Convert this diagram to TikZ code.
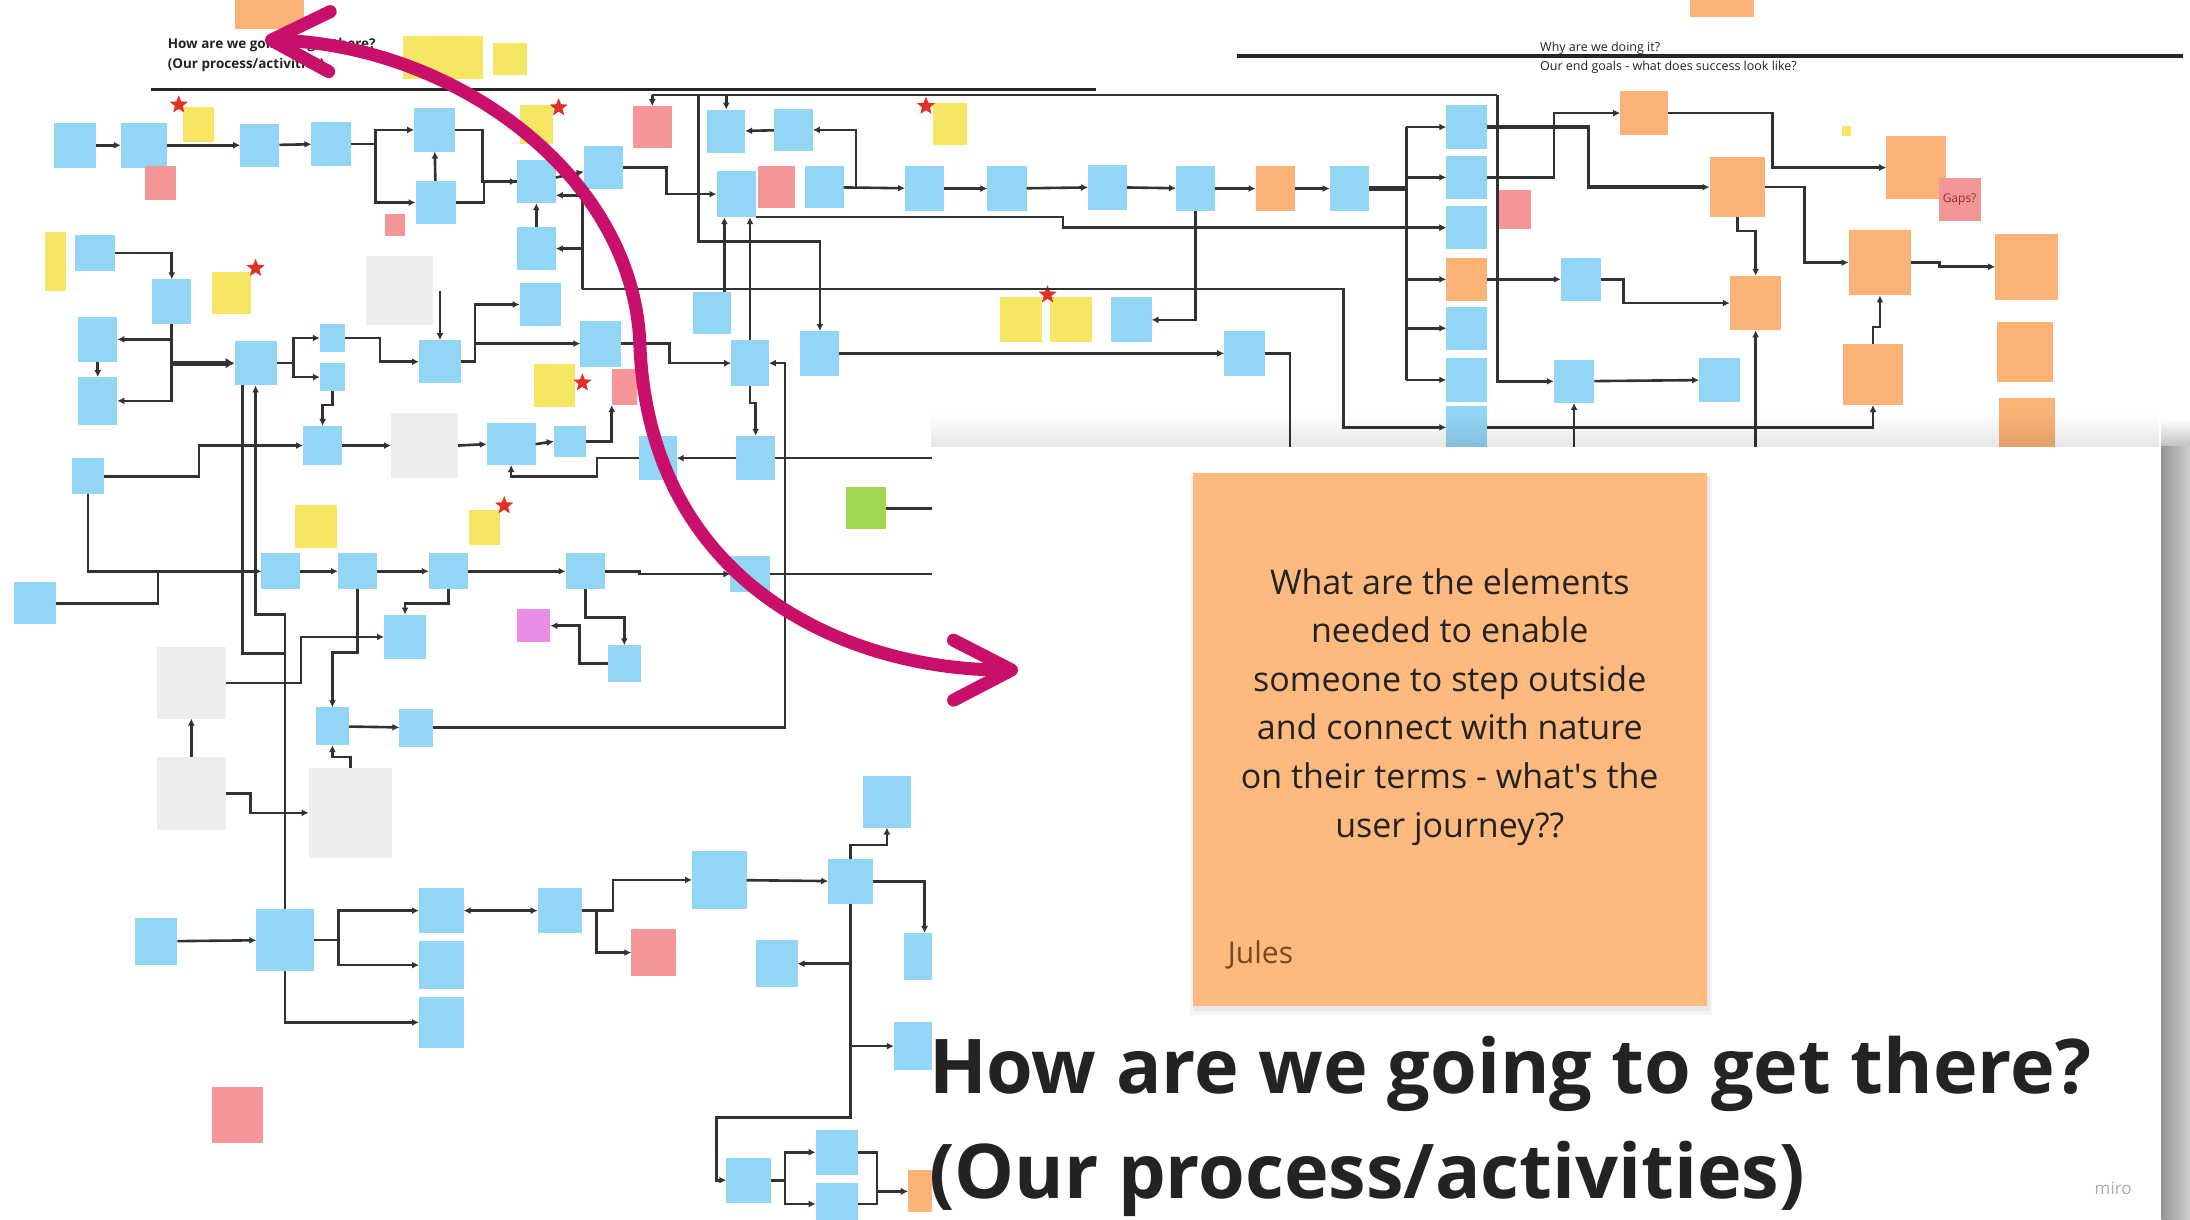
\documentclass[tikz,border=0pt]{standalone}
\usepackage{fontspec}
\setmainfont{Open Sans}
\usetikzlibrary{arrows.meta,shapes.geometric,fadings}

\definecolor{stblue}{RGB}{146,213,245}
\definecolor{styellow}{RGB}{246,230,100}
\definecolor{storange}{RGB}{251,178,118}
\definecolor{stbig}{RGB}{253,185,126}
\definecolor{stpink}{RGB}{244,150,152}
\definecolor{stgray}{RGB}{238,238,238}
\definecolor{stgreen}{RGB}{160,214,80}
\definecolor{stviolet}{RGB}{232,140,228}
\definecolor{starred}{RGB}{226,48,36}
\definecolor{lnk}{RGB}{50,50,50}
\definecolor{txtdark}{RGB}{35,35,35}
\definecolor{gapred}{RGB}{150,40,55}
\definecolor{julesbrown}{RGB}{118,72,32}
\definecolor{arrowmag}{RGB}{200,16,106}

\begin{document}
\begin{tikzpicture}[x=1.3967pt, y=-1.3967pt,
    wh/.style 2 args={minimum width=#1*1.3967pt, minimum height=#2*1.3967pt},
    note/.style={inner sep=0pt, outer sep=0pt, wh={28}{30}},
    bnote/.style={note, fill=stblue},
    ynote/.style={note, fill=styellow},
    onote/.style={note, fill=storange},
    pnote/.style={note, fill=stpink},
    gnote/.style={note, fill=stgray},
    lnote/.style={note, fill=stgreen},
    vnote/.style={note, fill=stviolet},
    starmark/.style={star, star points=5, star point ratio=2.3, fill=starred, inner sep=0pt, minimum size=19pt},
    wire/.style={draw=lnk, line width=2.6pt},
    link/.style={wire, -{Latex[length=7pt,width=7pt]}},
    link2/.style={wire, {Latex[length=7pt,width=7pt]}-{Latex[length=7pt,width=7pt]}},
    bundle/.style={draw=lnk, line width=5pt},
    bundlelink/.style={bundle, -{Latex[length=9pt,width=11pt]}},
    divline/.style={draw=black!85, line width=3.5pt},
    ]
    \useasboundingbox (0,0) rectangle (1568,873);
    \fill[white] (0,0) rectangle (1568,873);

    % Section headings
    \node[onote, wh={50}{21}] (otop1) at (193,10) {};
    \node[onote, wh={46}{12}] (otop2) at (1233,6) {};
    \node[ynote, wh={57}{31}] (ytop1) at (317,41) {};
    \node[ynote, wh={24}{23}] (ytop2) at (365,42) {};
    \node[anchor=base west, inner sep=0pt, text=txtdark, font=\bfseries\fontsize{13.5}{13.5}\selectfont] (howsmall) at (120,35) {How are we going to get there?};
    \node[anchor=base west, inner sep=0pt, text=txtdark, font=\bfseries\fontsize{13.5}{13.5}\selectfont] (procsmall) at (120,48.7) {(Our process/activities)};
    \node[anchor=base west, inner sep=0pt, text=txtdark, font=\fontsize{12.5}{12.5}\selectfont] (whysmall) at (1102.6,37) {Why are we doing it?};
    \node[anchor=base west, inner sep=0pt, text=txtdark, font=\fontsize{12.5}{12.5}\selectfont] (goalsmall) at (1102.6,50.5) {Our end goals - what does success look like?};
    \draw[divline] (108,64) -- (785,64);
    \draw[divline] (885.6,40) -- (1563,40);

    % Process row
    \node[bnote, wh={30}{32}] (a1) at (54,104) {};
    \node[bnote, wh={33}{32}] (a2) at (103,104) {};
    \node[ynote, wh={22}{25}] (y1) at (142,89) {};
    \node[pnote, wh={22}{25}] (p1) at (115,131) {};
    \node[bnote, wh={28}{31}] (a3) at (186,104) {};
    \node[bnote, wh={28}{31}] (a4) at (237,103) {};
    \node[bnote, wh={29}{31}] (a5) at (311,93) {};
    \node[bnote, wh={29}{31}] (a6) at (312,145) {};
    \node[pnote, wh={14}{16}] (p2) at (283,161) {};
    \node[ynote, wh={24}{28}] (y2) at (384,89) {};
    \node[bnote, wh={28}{31}] (a7) at (384,130) {};
    \node[bnote, wh={28}{31}] (a8) at (432,120) {};
    \node[bnote, wh={28}{31}] (a9) at (384,178) {};
    \node[pnote, wh={28}{30}] (p3) at (467,91) {};
    \node[bnote, wh={27}{31}] (a10) at (520,94) {};
    \node[bnote, wh={28}{30}] (a11) at (568,93) {};
    \node[bnote, wh={28}{33}] (a12) at (527,139) {};
    \node[pnote, wh={26}{30}] (p4) at (556,134) {};
    \node[bnote, wh={28}{30}] (a13) at (590,134) {};
    \node[ynote, wh={24}{30}] (y3) at (680,89) {};
    \node[bnote, wh={28}{32}] (a14) at (662,135) {};
    \node[bnote, wh={28}{32}] (a15) at (721,135) {};
    \node[bnote, wh={28}{32}] (a16) at (793,134) {};
    \node[bnote, wh={28}{32}] (a17) at (856,135) {};
    \node[onote, wh={28}{32}] (o1) at (913,135) {};
    \node[bnote, wh={28}{32}] (a18) at (966,135) {};

    % Goals column and outcomes
    \node[bnote, wh={29}{31}] (c1) at (1050,91) {};
    \node[bnote, wh={29}{31}] (c2) at (1050,127) {};
    \node[bnote, wh={29}{31}] (c3) at (1050,163) {};
    \node[onote, wh={29}{31}] (c4) at (1050,200) {};
    \node[bnote, wh={29}{31}] (c5) at (1050,235) {};
    \node[bnote, wh={29}{31}] (c6) at (1050,272) {};
    \node[bnote, wh={29}{31}] (c7) at (1050,306) {};
    \node[pnote, wh={24}{28}] (p5) at (1084,150) {};
    \node[onote, wh={34}{32}] (o2) at (1177,81) {};
    \node[onote, wh={40}{43}] (o3) at (1244,134) {};
    \node[onote, wh={43}{45}] (o4) at (1372,120) {};
    \node[pnote, wh={30}{31}, text=gapred, font=\fontsize{12}{12}\selectfont] (p6) at (1403,143) {Gaps?};
    \node[ynote, wh={7}{7}] (ydot) at (1322,94) {};
    \node[bnote, wh={29}{31}] (b20) at (1132,200) {};
    \node[onote, wh={37}{39}] (o5) at (1257,217) {};
    \node[onote, wh={45}{47}] (o6) at (1346,188) {};
    \node[onote, wh={45}{47}] (o7) at (1451,191) {};
    \node[bnote, wh={29}{31}] (b21) at (1127,273) {};
    \node[bnote, wh={29}{31}] (b22) at (1231,272) {};
    \node[onote, wh={43}{44}] (o8) at (1341,268) {};
    \node[onote, wh={40}{43}] (o9) at (1450,252) {};
    \node[onote, wh={40}{40}] (o10) at (1451,305) {};

    % Middle notes
    \node[ynote, wh={30}{32}] (y4) at (731,229) {};
    \node[ynote, wh={30}{32}] (y5) at (767,229) {};
    \node[bnote, wh={29}{32}] (a19) at (810,229) {};
    \node[bnote, wh={29}{32}] (a20) at (891,253) {};
    \node[bnote, wh={27}{30}] (a21) at (510,224) {};
    \node[bnote, wh={27}{33}] (a22) at (537,260) {};
    \node[bnote, wh={28}{32}] (a23) at (587,253) {};
    \node[bnote, wh={28}{32}] (a24) at (541,328) {};
    \node[bnote, wh={27}{32}] (a25) at (471,328) {};
    \node[lnote, wh={28}{30}] (gr) at (620,364) {};

    % Left notes
    \node[ynote, wh={15}{42}] (y6) at (40,187) {};
    \node[bnote, wh={28}{26}] (l1) at (68,181) {};
    \node[bnote, wh={28}{32}] (l2) at (123,216) {};
    \node[ynote, wh={28}{30}] (y7) at (166,210) {};
    \node[gnote, wh={48}{50}] (g1) at (286,208) {};
    \node[bnote, wh={28}{32}] (l3) at (70,243) {};
    \node[bnote, wh={28}{34}] (l4) at (70,287) {};
    \node[bnote, wh={30}{32}] (l5) at (183,260) {};
    \node[bnote, wh={18}{20}] (l6) at (238,242) {};
    \node[bnote, wh={18}{20}] (l7) at (238,270) {};
    \node[bnote, wh={30}{31}] (l8) at (315,259) {};
    \node[bnote, wh={30}{31}] (l9) at (387,218) {};
    \node[bnote, wh={29}{33}] (l10) at (430,246) {};
    \node[ynote, wh={30}{31}] (y8) at (397,276) {};
    \node[pnote, wh={18}{26}] (p7) at (447,277) {};
    \node[bnote, wh={28}{28}] (l11) at (231,319) {};
    \node[gnote, wh={48}{46}] (g2) at (304,319) {};
    \node[bnote, wh={35}{30}] (l12) at (366,318) {};
    \node[bnote, wh={23}{22}] (l13) at (408,316) {};
    \node[bnote, wh={23}{26}] (l14) at (63,341) {};
    \node[ynote, wh={30}{31}] (y9) at (226,377) {};
    \node[ynote, wh={22}{25}] (y10) at (347,378) {};
    \node[bnote, wh={28}{26}] (l15) at (201,409) {};
    \node[bnote, wh={28}{26}] (l16) at (256,409) {};
    \node[bnote, wh={28}{26}] (l17) at (321,409) {};
    \node[bnote, wh={28}{26}] (l18) at (419,409) {};
    \node[bnote, wh={28}{26}] (l19) at (537,411) {};
    \node[bnote, wh={30}{30}] (l20) at (25,432) {};

    % Lower notes
    \node[gnote, wh={49}{51}] (g3) at (137,489) {};
    \node[vnote, wh={24}{24}] (v1) at (382,448) {};
    \node[bnote, wh={30}{32}] (m1) at (290,456) {};
    \node[bnote, wh={24}{26}] (m2) at (447,475) {};
    \node[bnote, wh={24}{27}] (m3) at (238,520) {};
    \node[bnote, wh={24}{27}] (m4) at (298,521) {};
    \node[gnote, wh={49}{52}] (g4) at (137,568) {};
    \node[gnote, wh={60}{64}] (g5) at (251,582) {};
    \node[bnote, wh={34}{37}] (m5) at (635,574) {};
    \node[bnote, wh={39}{41}] (m6) at (515,630) {};
    \node[bnote, wh={32}{32}] (m7) at (609,631) {};
    \node[bnote, wh={30}{34}] (m8) at (112,674) {};
    \node[bnote, wh={41}{44}] (nb) at (204,673) {};
    \node[bnote, wh={32}{32}] (m9) at (316,652) {};
    \node[bnote, wh={32}{34}] (m10) at (316,691) {};
    \node[bnote, wh={32}{36}] (m11) at (316,732) {};
    \node[bnote, wh={32}{32}] (m12) at (401,652) {};
    \node[pnote, wh={32}{34}] (p8) at (468,682) {};
    \node[bnote, wh={30}{34}] (m13) at (556,690) {};
    \node[bnote, wh={30}{34}] (m14) at (662,685) {};
    \node[bnote, wh={30}{34}] (m15) at (655,749) {};
    \node[pnote, wh={37}{40}] (p9) at (170,798) {};
    \node[bnote, wh={32}{32}] (m16) at (536,845) {};
    \node[bnote, wh={30}{32}] (m17) at (599,825) {};
    \node[bnote, wh={30}{30}] (m18) at (599,862) {};
    \node[onote, wh={22}{30}] (o11) at (661,853) {};

    % Stars
    \node[starmark] (s1) at (128,75) {};
    \node[starmark] (s2) at (400,77) {};
    \node[starmark] (s3) at (663,76) {};
    \node[starmark] (s4) at (183,192) {};
    \node[starmark] (s5) at (417,274) {};
    \node[starmark] (s6) at (361,362) {};
    \node[starmark] (s7) at (750,211) {};

    % Junctions
    \coordinate (jn1) at (417,207);
    \coordinate (tl1) at (467,68);
    \coordinate (tl2) at (500,68);
    \coordinate (tr1) at (1072,68);
    \coordinate (jn2) at (613,134);
    \coordinate (bus1) at (1007,91);
    \coordinate (bus2) at (1007,272);
    \coordinate (u1) at (1127,322);
    \coordinate (u2) at (1257,322);

    % Connectors - process row
    \draw[link] (a1) -- (a2);
    \draw[link] (a2) -- (a3);
    \draw[link] (a3) -- (a4);
    \draw[link] (a4.east) -- ++(18,0) |- (a5.west);
    \draw[link] (a4.east) -- ++(18,0) |- (a6.west);
    \draw[link] (a6) -- (a5);
    \draw[link] (a5.east) -- ++(20,0) |- (a7.west);
    \draw[wire] (a6.east) -- ++(20,0) |- (a7.west);
    \draw[link] (a9) -- (a7);
    \draw[link] (a7) -- (a8);
    \draw[link] (a8.east) -- ++(31,0) |- (a12.west);
    \draw[link] (jn1) |- (a9.east);
    \draw[link] (jn1) |- (a7.-35);
    \draw[link] (jn1) -- ++(545,0) |- (c7.west);
    \draw[wire] (tl1) -- (tr1);
    \draw[link] (tl1) -- (p3.north);
    \draw[link] (a10.north |- tl1) -- (a10.north);
    \draw[link] (tl2) -- ++(0,105) -| (a23.north);
    \draw[link] (tr1) |- (b21.west);
    \draw[link] (a11) -- (a10);
    \draw[link] (a13) -- (a14);
    \draw[link] (jn2) |- (a11.east);
    \draw[link] (a14) -- (a15);
    \draw[link] (a15) -- (a16);
    \draw[link] (a16) -- (a17);
    \draw[link] (a17) -- (o1);
    \draw[link] (o1) -- (a18);
    \draw[bundle] (a18.east) -- (a18.east -| bus1);
    \draw[link] (a12.south east) -- ++(220,0) |- (c3.west);

    % Connectors - goals
    \draw[wire] (bus1) -- (bus2);
    \foreach \cn in {c1,c2,c3,c4,c5,c6}
        \draw[link] (bus1 |- \cn.west) -- (\cn.west);
    \draw[link, line width=3.5pt] (c1.east) -- ++(73,0) |- (o3.west);
    \draw[link] (c2.east) -- ++(48,0) |- (o2.west);
    \draw[link] (o2.east) -- ++(75,0) |- (o4.west);
    \draw[link] (o3.east) -- ++(28,0) |- (o6.west);
    \draw[link] (o3.south) -- ++(0,10) -| (o5.north);
    \draw[link] (o6.east) -- ++(20,0) |- (o7.west);
    \draw[link] (c4.east) -- (b20.west);
    \draw[link] (b20.east) -- ++(16,0) |- (o5.west);
    \draw[link] (b21) -- (b22);
    \draw[link] (o8.north) -- ++(0,-12) -| (o6.south);
    \draw[link] (c7.east) -| (o8.south);
    \draw[link] (u1) -- (b21.south);
    \draw[link] (u2) -- (o5.south);

    % Connectors - middle
    \draw[link] (a17.south) |- (a19.east);
    \draw[link] (a23.east) -- (a20.west);
    \draw[wire] (a20.east) -- ++(18,0) -- ++(0,80);
    \draw[link] (a21.60) -- (a21.60 |- a12.south);
    \draw[link] (a22.north) -- (a22.north |- a12.south);
    \draw[link] (a22.south) -- ++(0,12) -| (a24.north);
    \draw[link] (m4.east) -- ++(252,0) |- (a22.east);
    \draw[link] (a24.west) -- (a25.east);
    \draw[wire] (a24.east) -- ++(120,0);
    \draw[link] (a25.west) -- ++(-30,0) -- ++(0,13) -| (l12.south);
    \draw[link] (l10.east) -- ++(35,0) |- (a22.west);
    \draw[wire] (gr.east) -- ++(50,0);

    % Connectors - left
    \draw[link] (l1.east) -| (l2.north);
    \draw[link] (l2.south) |- (l3.east);
    \draw[link] (l2.south) |- (l4.east);
    \draw[bundlelink] (l2.south |- l5.west) -- (l5.west);
    \draw[link] (l3.south) -- (l4.north);
    \draw[link] (l5.east) -- ++(12,0) |- (l6.west);
    \draw[link] (l5.east) -- ++(12,0) |- (l7.west);
    \draw[link] (l6.east) -- ++(25,0) |- (l8.west);
    \draw[link] (l7.south) -- ++(0,10) -| (l11.north);
    \draw[link] (l8.north |- g1.east) -- (l8.north);
    \draw[link] (l8.east) -- ++(10,0) |- (l9.west);
    \draw[link] (l8.east) -- ++(10,0) |- (l10.west);
    \draw[link] (l11.east) -- (g2.west);
    \draw[link] (l14.east) -- ++(68,0) |- (l11.west);
    \draw[link] (g2.east) -- (l12.west);
    \draw[link] (l12.east) -- (l13.west);
    \draw[link] (l13.east) -| (p7.south west);
    \draw[link] (l14.south) |- (l15.west);
    \draw[link] (l20.east) -- ++(73,0) |- (l15.west);
    \draw[link] (l15) -- (l16);
    \draw[link] (l16) -- (l17);
    \draw[link] (l17) -- (l18);
    \draw[link] (l18.east) -- ++(25,0) |- (l19.west);
    \draw[wire] (l19.east) -- ++(120,0);
    \draw[link] (l17.south) -- ++(0,10) -| (m1.north);
    \draw[link] (l18.south) -- ++(0,20) -| (m2.north);
    \draw[link] (m2.west) -- ++(-20,0) |- (v1.east);

    % Connectors - lower
    \draw[link] (nb.north) -- ++(0,-211) -| (l5.south);
    \draw[wire] (l5.-120) -- ++(0,192) -| (nb.north);
    \draw[link] (g3.east) -- ++(54,0) |- (m1.west);
    \draw[link] (l16.south) -- ++(0,45) -| (m3.north);
    \draw[link] (g4.north) -- (g3.south);
    \draw[link] (g4.east) -- ++(18,0) |- (g5.west);
    \draw[link] (g5.north) -- ++(0,-8) -| (m3.south);
    \draw[link] (m3) -- (m4);
    \draw[link] (m8) -- (nb);
    \draw[link] (nb.east) -- ++(18,0) |- (m9.west);
    \draw[link] (nb.east) -- ++(18,0) |- (m10.west);
    \draw[link] (nb.south) |- (m11.west);
    \draw[link2] (m9) -- (m12);
    \draw[link] (m12.east) -- ++(22,0) |- (m6.west);
    \draw[link] (m12.east) -- ++(10,0) |- (p8.west);
    \draw[link] (m6) -- (m7);
    \draw[link] (m7.north) -- ++(0,-10) -| (m5.south);
    \draw[link] (m7.east) -| (m14.north);
    \draw[link] (m7.south) -- ++(0,153) -- ++(-96,0) |- (m16.west);
    \draw[link] (m7.south |- m13.east) -- (m13.east);
    \draw[link] (m7.south |- m15.west) -- (m15.west);
    \draw[link] (m16.east) -- ++(10,0) |- (m17.west);
    \draw[link] (m16.east) -- ++(10,0) |- (m18.west);
    \draw[link] (m17.east) -- ++(14,0) |- (o11.west);
    \draw[link] (m18.east) -- ++(14,0) |- (o11.west);

    % Zoomed card
    \fill[black, fill opacity=0.10, path fading=north] (667,296) rectangle (1547.5,320);
    \fill[black, fill opacity=0.25, path fading=north] (1547.5,300) rectangle (1568,320);
    \shade[left color=black!42, right color=black!18] (1547.5,320) rectangle (1568,874);
    \fill[white] (667,320) rectangle (1547.5,874);
    \fill[black, fill opacity=0.04] (852,341) rectangle (1226,727);
    \fill[black, fill opacity=0.05] (854,341) rectangle (1224,724);
    \node[note, fill=stbig, wh={368}{381}] (quest) at (1038,529.5) {};
    \node[align=center, inner sep=0pt, text=txtdark, font=\fontsize{34}{48.6}\selectfont] (qtext) at (1038,506)
        {What are the elements\\needed to enable\\someone to step outside\\and connect with nature\\on their terms - what\textquotesingle s the\\user journey??};
    \node[anchor=base west, inner sep=0pt, text=julesbrown, font=\fontsize{30}{30}\selectfont] (qname) at (879,690) {Jules};
    \node[anchor=base west, inner sep=0pt, text=txtdark, font=\bfseries\fontsize{75.5}{75.5}\selectfont] (head1) at (665,782.6) {How are we going to get there?};
    \node[anchor=base west, inner sep=0pt, text=txtdark, font=\bfseries\fontsize{75.5}{75.5}\selectfont] (head2) at (665,857.8) {(Our process/activities)};
    \node[text=black!32, inner sep=0pt, font=\fontsize{17}{17}\selectfont] (mirologo) at (1513,851) {miro};

    % Pointer
    \coordinate (arrtop) at (189.7,28.6);
    \coordinate (arrbot) at (728.9,479.7);
    \draw[draw=arrowmag, line width=13pt, line cap=round,
          {Straight Barb[round, length=58pt, width=60pt]}-{Straight Barb[round, length=58pt, width=60pt]}]
        (arrtop) .. controls (322,32) and (451,122) .. (458,243)
        .. controls (463,420) and (609,480) .. (arrbot);
\end{tikzpicture}
\end{document}
